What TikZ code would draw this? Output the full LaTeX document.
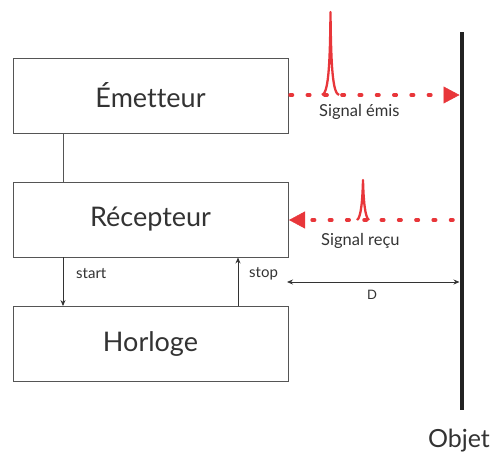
\documentclass[tikz,border=0pt]{standalone}
\usepackage{fontspec}
\setmainfont[Ligatures={NoCommon,NoRare}]{Lato}
\usetikzlibrary{arrows.meta}
\definecolor{sigred}{HTML}{E8363A}
\definecolor{boxgray}{HTML}{555555}
\definecolor{objblack}{HTML}{222222}
\definecolor{txt}{HTML}{333333}
\tikzset{
  blockbox/.style={draw=boxgray, line width=0.9pt, minimum width=275pt, minimum height=75pt, inner sep=0pt, font=\fontsize{27}{30}\selectfont, text=txt},
  smalllbl/.style={font=\fontsize{15}{17}\selectfont, text=txt, inner sep=0pt},
  siglbl/.style={font=\fontsize{16.5}{19}\selectfont, text=txt, inner sep=0pt},
  sigline/.style={draw=sigred, line width=3.5pt, line cap=round, dash pattern=on 2.5pt off 14.8pt},
  sigspike/.style={draw=sigred, line width=2.3pt, line join=round},
  sigtip/.style={-{Triangle[length=16pt,width=17pt]}, sigred, line width=0.5pt},
  thinarrow/.style={draw=black!80, line width=0.8pt, -{Stealth[length=6pt,width=5pt]}},
}
\begin{document}
\begin{tikzpicture}[x=1pt,y=-1pt]
\useasboundingbox (0,0) rectangle (495,453);
\node[blockbox] (em) at (150.5,96) {\raisebox{1.5pt}{Émetteur}};
\node[blockbox] (rc) at (150.5,219.5) {\raisebox{1pt}{Récepteur}};
\node[blockbox] (ho) at (150.5,344) {\raisebox{1pt}{Horloge}};
% link emitter-receiver
\draw[draw=boxgray, line width=0.9pt] (em.south -| 63,0) -- (rc.north -| 63,0);
% start / stop
\draw[thinarrow] (rc.south -| 63,0) -- (ho.north -| 63,0);
\node[smalllbl, anchor=west] (startl) at (76,274) {start};
\draw[thinarrow] (ho.north -| 238,0) -- (rc.south -| 238,0);
\node[smalllbl, anchor=west] (stopl) at (249,274) {stop};
% object
\coordinate (objtop) at (462,32);
\coordinate (objbot) at (462,410);
\draw[objblack, line width=4.5pt] (objtop) -- (objbot);
\node[font=\fontsize{25}{28}\selectfont, text=txt, inner sep=0pt] (objl) at (459,441) {Objet};
% D
\coordinate (dl) at (287,282);
\coordinate (dr) at (459.5,282);
\draw[draw=black!80, line width=0.8pt, {Stealth[length=6pt,width=5pt]}-{Stealth[length=6pt,width=5pt]}] (dl) -- (dr);
\node[font=\fontsize{13}{15}\selectfont, text=txt, inner sep=0pt] (dlab) at (372,295) {D};
% signal emitted
\coordinate (e1) at (290,95);
\coordinate (e2) at (446,95);
\coordinate (e3) at (459.5,95);
\draw[sigline] (e1) -- (e2);
\draw[sigtip] (e2) -- (e3);
\draw[sigspike] (322,95) .. controls (328,93) and (330,70) .. (330.5,12) .. controls (331,70) and (333,93) .. (339,95);
\node[siglbl, anchor=west] (seml) at (319,112) {Signal émis};
% signal received
\coordinate (r1) at (453,220);
\coordinate (r2) at (303,220);
\coordinate (r3) at (289,220);
\draw[sigline] (r1) -- (r2);
\draw[sigtip] (r2) -- (r3);
\draw[sigspike] (357,220) .. controls (361,218) and (362.5,200) .. (363,180) .. controls (363.5,200) and (365,218) .. (369,220);
\node[siglbl, anchor=west] (srcl) at (321,241) {Signal reçu};
\end{tikzpicture}
\end{document}
